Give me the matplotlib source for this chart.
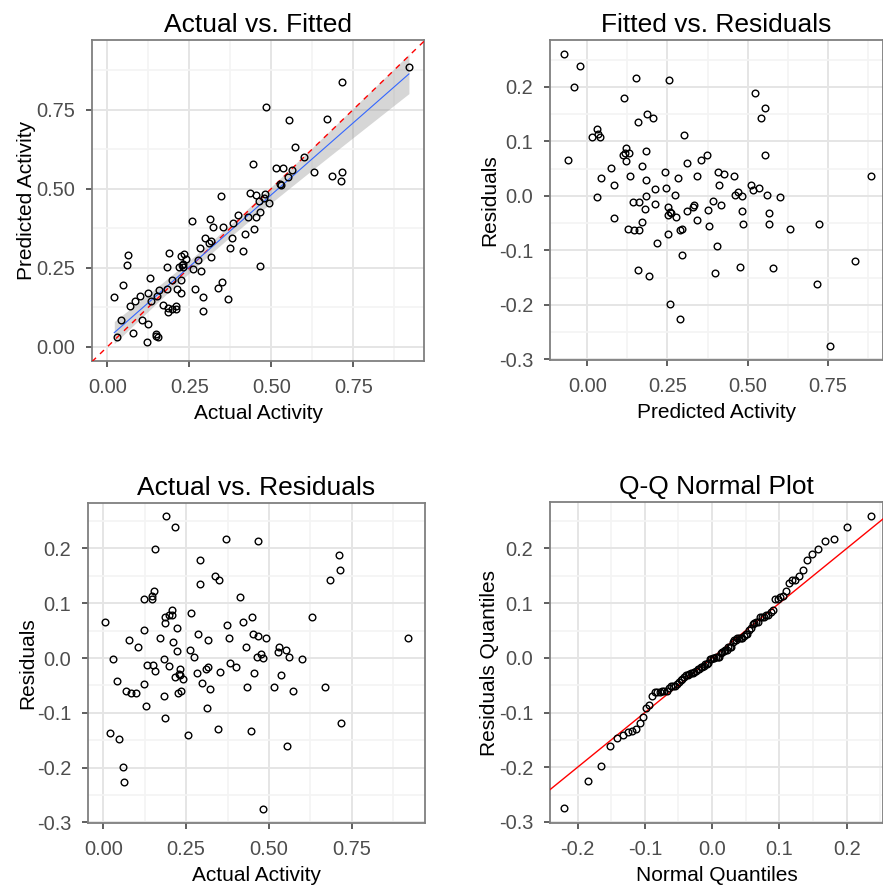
import numpy as np
import matplotlib
matplotlib.use("Agg")
import matplotlib.pyplot as plt
from matplotlib.ticker import FixedLocator
from statistics import NormalDist

plt.rcParams['font.family'] = ['Liberation Sans', 'DejaVu Sans']

## Data (actual vs. model prediction)
actual = [0.188, 0.216, 0.157, 0.006, 0.122, 0.154, 0.147, 0.148, 0.077, 0.029,
          0.124, 0.105, 0.043, 0.293, 0.208, 0.197, 0.185, 0.208, 0.186, 0.170,
          0.068, 0.083, 0.132, 0.150, 0.099, 0.123, 0.369, 0.293, 0.224, 0.211,
          0.266, 0.182, 0.157, 0.337, 0.349, 0.224, 0.197, 0.047, 0.021, 0.130,
          0.285, 0.262, 0.467, 0.232, 0.229, 0.217, 0.231, 0.275, 0.240, 0.316,
          0.183, 0.225, 0.234, 0.060, 0.063, 0.187, 0.414, 0.373, 0.284, 0.309,
          0.317, 0.380, 0.298, 0.421, 0.448, 0.353, 0.323, 0.382, 0.312, 0.257,
          0.453, 0.430, 0.400, 0.467, 0.492, 0.463, 0.477, 0.482, 0.454, 0.435,
          0.346, 0.530, 0.527, 0.712, 0.551, 0.684, 0.715, 0.629, 0.562, 0.535,
          0.514, 0.445, 0.599, 0.572, 0.669, 0.555, 0.483, 0.717, 0.920]
predicted = [-0.072, -0.023, -0.042, -0.059, 0.014, 0.031, 0.033, 0.040, 0.044, 0.031,
             0.073, 0.085, 0.084, 0.114, 0.120, 0.118, 0.110, 0.129, 0.122, 0.133,
             0.128, 0.146, 0.144, 0.162, 0.162, 0.170, 0.152, 0.157, 0.170, 0.182,
             0.183, 0.183, 0.181, 0.187, 0.206, 0.212, 0.212, 0.194, 0.157, 0.217,
             0.241, 0.247, 0.254, 0.252, 0.258, 0.252, 0.262, 0.273, 0.278, 0.283,
             0.253, 0.288, 0.294, 0.258, 0.289, 0.296, 0.302, 0.312, 0.311, 0.329,
             0.333, 0.343, 0.343, 0.356, 0.373, 0.378, 0.379, 0.391, 0.403, 0.398,
             0.409, 0.410, 0.416, 0.427, 0.456, 0.461, 0.469, 0.482, 0.481, 0.487,
             0.476, 0.510, 0.516, 0.523, 0.536, 0.541, 0.554, 0.554, 0.560, 0.566,
             0.566, 0.578, 0.601, 0.632, 0.721, 0.716, 0.758, 0.836, 0.884]

# location / scale of the normal used for the Q-Q x axis
qq_loc = 0.008
qq_scale = 0.0886

actual = np.array(actual)
predicted = np.array(predicted)
residuals = actual - predicted

# Style helpers (ggplot theme_bw look)
TICK_COL = "#4D4D4D"
pt_kw = dict(marker="o", linestyle="none", markersize=4.8, markerfacecolor="none",
             markeredgecolor="black", markeredgewidth=1.0, zorder=4)


def style_axes(ax, xlim, ylim, xmaj, ymaj, xmin, ymin, title, xlabel, ylabel):
    ax.set_xlim(*xlim)
    ax.set_ylim(*ylim)
    ax.xaxis.set_major_locator(FixedLocator(xmaj))
    ax.yaxis.set_major_locator(FixedLocator(ymaj))
    ax.xaxis.set_minor_locator(FixedLocator(xmin))
    ax.yaxis.set_minor_locator(FixedLocator(ymin))
    ax.grid(True, which="major", color="#E5E5E5", linewidth=1.4, zorder=0)
    ax.grid(True, which="minor", color="#F4F4F4", linewidth=1.2, zorder=0)
    ax.set_axisbelow(True)
    ax.tick_params(which="minor", length=0)
    ax.tick_params(which="major", length=4, width=1.1, color="#333333",
                   labelsize=14.4, labelcolor=TICK_COL)
    ax.tick_params(axis="x", pad=8)
    ax.tick_params(axis="y", pad=8)
    for s in ax.spines.values():
        s.set_color("#7F7F7F")
        s.set_linewidth(1.3)
    ax.set_title(title, fontsize=19, pad=6)
    ax.set_xlabel(xlabel, fontsize=15, labelpad=5)
    ax.set_ylabel(ylabel, fontsize=15, labelpad=0)


fig = plt.figure(figsize=(8.83, 8.9), dpi=100)

# --- Actual vs. Fitted (points outside the 0..max limits are dropped) ---
ax1 = fig.add_axes([92 / 883, 1 - 361 / 890, 332 / 883, 321 / 890])
xlim1 = (-0.047, 0.966)
keep = predicted >= 0
xa, ya = actual[keep], predicted[keep]
ax1.plot(xlim1, xlim1, color="red", linestyle=(0, (4, 4)), linewidth=1.0, zorder=3)
# linear fit with 95% confidence band
b, a0 = np.polyfit(xa, ya, 1)
xs = np.linspace(xa.min(), xa.max(), 80)
ys = a0 + b * xs
n1 = len(xa)
s = np.sqrt(np.sum((ya - (a0 + b * xa)) ** 2) / (n1 - 2))
sxx = np.sum((xa - xa.mean()) ** 2)
se = s * np.sqrt(1 / n1 + (xs - xa.mean()) ** 2 / sxx)
ax1.fill_between(xs, ys - 1.985 * se, ys + 1.985 * se, color="#999999", alpha=0.4,
                 linewidth=0, zorder=2)
ax1.plot(xs, ys, color="#3366FF", linewidth=0.8, zorder=3)
ax1.plot(xa, ya, **pt_kw)
style_axes(ax1, xlim1, (-0.045, 0.970), [0, 0.25, 0.5, 0.75], [0, 0.25, 0.5, 0.75],
           [0.125, 0.375, 0.625, 0.875], [0.125, 0.375, 0.625, 0.875],
           "Actual vs. Fitted", "Actual Activity", "Predicted Activity")
ax1.set_xticklabels(["0.00", "0.25", "0.50", "0.75"])
ax1.set_yticklabels(["0.00", "0.25", "0.50", "0.75"])

res_ticks = [-0.3, -0.2, -0.1, 0.0, 0.1, 0.2]
res_minor = [-0.25, -0.15, -0.05, 0.05, 0.15, 0.25]
res_labels = ["-0.3", "-0.2", "-0.1", "0.0", "0.1", "0.2"]

# --- Fitted vs. Residuals ---
ax2 = fig.add_axes([550 / 883, 1 - 360 / 890, 333 / 883, 320 / 890])
ax2.plot(predicted, residuals, **pt_kw)
style_axes(ax2, (-0.116, 0.922), (-0.301, 0.286), [0, 0.25, 0.5, 0.75], res_ticks,
           [-0.125, 0.125, 0.375, 0.625, 0.875], res_minor,
           "Fitted vs. Residuals", "Predicted Activity", "Residuals")
ax2.set_xticklabels(["0.00", "0.25", "0.50", "0.75"])
ax2.set_yticklabels(res_labels)

# --- Actual vs. Residuals ---
ax3 = fig.add_axes([88 / 883, 1 - 823 / 890, 337 / 883, 320 / 890])
ax3.plot(actual, residuals, **pt_kw)
style_axes(ax3, (-0.046, 0.971), (-0.301, 0.283), [0, 0.25, 0.5, 0.75], res_ticks,
           [0.125, 0.375, 0.625, 0.875], res_minor,
           "Actual vs. Residuals", "Actual Activity", "Residuals")
ax3.set_xticklabels(["0.00", "0.25", "0.50", "0.75"])
ax3.set_yticklabels(res_labels)

# --- Q-Q Normal Plot ---
ax4 = fig.add_axes([550 / 883, 1 - 823 / 890, 333 / 883, 321 / 890])
n = len(residuals)
sorted_res = np.sort(residuals)
probs = (np.arange(1, n + 1) - 0.5) / n
theo = np.array([NormalDist(qq_loc, qq_scale).inv_cdf(p) for p in probs])
xlim4 = (-0.241, 0.254)
ax4.plot(xlim4, xlim4, color="red", linewidth=1.0, zorder=3)
ax4.plot(theo, sorted_res, **pt_kw)
style_axes(ax4, xlim4, (-0.302, 0.285), [-0.2, -0.1, 0, 0.1, 0.2], res_ticks,
           [-0.15, -0.05, 0.05, 0.15, 0.25], res_minor,
           "Q-Q Normal Plot", "Normal Quantiles", "Residuals Quantiles")
ax4.set_xticklabels(["-0.2", "-0.1", "0.0", "0.1", "0.2"])
ax4.set_yticklabels(res_labels)

fig.savefig("out.png", dpi=100)
